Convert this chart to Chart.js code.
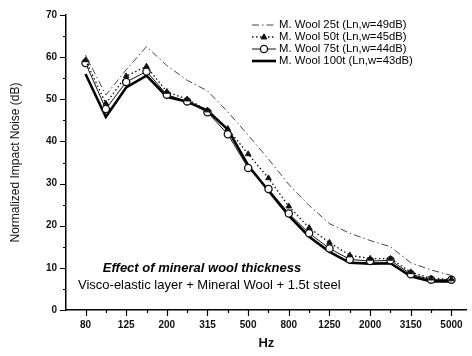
<!DOCTYPE html>
<html>
<head>
<meta charset="utf-8">
<script src="https://cdn.jsdelivr.net/npm/chart.js@4"></script>
<style>
  body { margin: 0; background: #fff; }
  canvas { display: block; }
</style>
</head>
<body>
<canvas id="chart" width="472" height="356"></canvas>
<script>
// 1/3 octave band centre frequencies
const freqs = ['80', '100', '125', '160', '200', '250', '315', '400', '500', '630',
  '800', '1000', '1250', '1600', '2000', '2500', '3150', '4000', '5000'];

// normalized impact noise (dB) per mineral wool thickness
const wool25 = [60.5, 51.0, 57.0, 62.5, 58.0, 54.5, 52.0, 47.0, 41.5, 35.8,
  29.8, 24.8, 20.5, 18.2, 16.5, 15.0, 11.2, 9.5, 8.2];
const wool50 = [59.3, 49.0, 55.5, 57.8, 51.8, 50.0, 47.4, 43.0, 37.0, 31.3,
  24.6, 19.5, 16.0, 13.0, 12.2, 12.2, 9.0, 7.5, 7.3];
const wool75 = [58.6, 47.7, 54.1, 56.6, 51.1, 49.5, 46.9, 41.7, 33.7, 28.7,
  22.9, 18.2, 14.6, 12.0, 11.6, 11.8, 8.5, 7.2, 7.2];
const wool100 = [56.0, 45.8, 52.8, 55.6, 50.6, 49.4, 47.3, 42.8, 34.3, 28.3,
  22.4, 17.4, 13.8, 11.2, 11.0, 11.1, 8.0, 6.8, 6.8];

const seriesNames = ['M. Wool 25t (Ln,w=49dB)', 'M. Wool 50t (Ln,w=45dB)',
  'M. Wool 75t (Ln,w=44dB)', 'M. Wool 100t (Ln,w=43dB)'];

const yTicks = [0, 10, 20, 30, 40, 50, 60, 70];

const FONT = '"Liberation Sans", Arial, sans-serif';

function toPoints(values) {
  const pts = [];
  for (let i = 0; i < values.length; i++) {
    pts.push({ x: i, y: values[i] });
  }
  return pts;
}

// small tick marks (major + minor) on both axes
const tickMarks = {
  id: 'tickMarks',
  afterDraw(chart) {
    const ctx = chart.ctx;
    const xs = chart.scales.x;
    const ys = chart.scales.y;
    ctx.save();
    ctx.strokeStyle = '#000';
    ctx.lineWidth = 1.2;
    ctx.beginPath();
    for (let i = 0; i < freqs.length; i++) {
      const px = Math.round(xs.getPixelForValue(i)) + 0.5;
      const len = i % 2 === 0 ? 6 : 3;
      ctx.moveTo(px, ys.bottom);
      ctx.lineTo(px, ys.bottom + len);
    }
    for (let v = 0; v <= 70; v += 5) {
      const py = Math.round(ys.getPixelForValue(v)) + 0.5;
      const len = v % 10 === 0 ? 6 : 3;
      ctx.moveTo(xs.left - len, py);
      ctx.lineTo(xs.left, py);
    }
    ctx.stroke();
    ctx.restore();
  }
};

// legend box in the upper right, drawn from the dataset styles
const legendBox = {
  id: 'legendBox',
  afterDraw(chart) {
    const ctx = chart.ctx;
    const x0 = 252, x1 = 276, textX = 279;
    const rows = [25, 37, 49, 61];
    ctx.save();
    chart.data.datasets.forEach((ds, i) => {
      const y = rows[i];
      ctx.strokeStyle = ds.borderColor;
      ctx.lineWidth = ds.borderWidth;
      ctx.setLineDash(ds.borderDash || []);
      ctx.beginPath();
      ctx.moveTo(x0, y);
      ctx.lineTo(x1, y);
      ctx.stroke();
      ctx.setLineDash([]);
      if (ds.pointRadius > 0) {
        const cx = (x0 + x1) / 2;
        ctx.lineWidth = ds.pointBorderWidth;
        ctx.strokeStyle = ds.pointBorderColor;
        ctx.fillStyle = ds.pointBackgroundColor;
        ctx.beginPath();
        if (ds.pointStyle === 'triangle') {
          const r = ds.pointRadius;
          ctx.moveTo(cx, y - r);
          ctx.lineTo(cx + r * 0.9, y + r * 0.6);
          ctx.lineTo(cx - r * 0.9, y + r * 0.6);
          ctx.closePath();
        } else {
          ctx.arc(cx, y, ds.pointRadius, 0, Math.PI * 2);
        }
        ctx.fill();
        ctx.stroke();
      }
      ctx.fillStyle = '#000';
      ctx.font = '11.3px ' + FONT;
      ctx.textBaseline = 'middle';
      ctx.fillText(ds.label, textX, y);
    });

    // note inside the plot
    ctx.fillStyle = '#000';
    ctx.textAlign = 'center';
    ctx.font = 'italic bold 13px ' + FONT;
    ctx.fillText('Effect of mineral wool thickness', 202, 268);
    ctx.textAlign = 'left';
    ctx.font = '13px ' + FONT;
    ctx.fillText('Visco-elastic layer + Mineral Wool + 1.5t steel', 78, 285);
    ctx.restore();
  }
};

new Chart(document.getElementById('chart'), {
  type: 'line',
  data: {
    datasets: [
      {
        label: seriesNames[0],
        data: toPoints(wool25),
        borderColor: '#444',
        borderWidth: 1,
        borderDash: [7, 3, 1.5, 3],
        pointRadius: 0
      },
      {
        label: seriesNames[1],
        data: toPoints(wool50),
        borderColor: '#111',
        borderWidth: 1.3,
        borderDash: [1.5, 2.5],
        pointStyle: 'triangle',
        pointRadius: 3.2,
        pointBorderWidth: 1,
        pointBorderColor: '#111',
        pointBackgroundColor: '#111'
      },
      {
        label: seriesNames[2],
        data: toPoints(wool75),
        borderColor: '#111',
        borderWidth: 1,
        pointStyle: 'circle',
        pointRadius: 3.6,
        pointBorderWidth: 1.3,
        pointBorderColor: '#111',
        pointBackgroundColor: '#fff'
      },
      {
        label: seriesNames[3],
        data: toPoints(wool100),
        borderColor: '#000',
        borderWidth: 2.6,
        pointRadius: 0
      }
    ]
  },
  options: {
    responsive: false,
    animation: false,
    layout: { padding: { top: 13, right: 1, left: 0, bottom: 0 } },
    plugins: {
      legend: { display: false },
      tooltip: { enabled: false }
    },
    scales: {
      x: {
        type: 'linear',
        min: -0.96,
        max: 18.75,
        afterFit: scale => { scale.height = 46; },
        afterBuildTicks: scale => {
          scale.ticks = freqs.map((f, i) => ({ value: i })).filter(t => t.value % 2 === 0);
        },
        grid: { display: false, drawTicks: false },
        border: { display: true, color: '#000', width: 1.5 },
        ticks: {
          padding: 9,
          color: '#111',
          font: { family: FONT, size: 10, weight: 'bold' },
          maxRotation: 0,
          autoSkip: false,
          callback: v => freqs[v]
        },
        title: {
          display: true,
          text: 'Hz',
          color: '#111',
          font: { family: FONT, size: 13, weight: 'bold' },
          padding: { top: 0, bottom: 5 }
        }
      },
      y: {
        min: 0,
        max: 70,
        afterFit: scale => { scale.width = 66; },
        afterBuildTicks: scale => {
          scale.ticks = yTicks.map(v => ({ value: v }));
        },
        grid: { display: false, drawTicks: false },
        border: { display: true, color: '#000', width: 1.5 },
        ticks: {
          padding: 9,
          color: '#111',
          font: { family: FONT, size: 10, weight: 'bold' }
        },
        title: {
          display: true,
          text: 'Normalized Impact Noise (dB)',
          color: '#111',
          font: { family: FONT, size: 12 },
          padding: { top: 8, bottom: 0 }
        }
      }
    }
  },
  plugins: [tickMarks, legendBox]
});
</script>
</body>
</html>
